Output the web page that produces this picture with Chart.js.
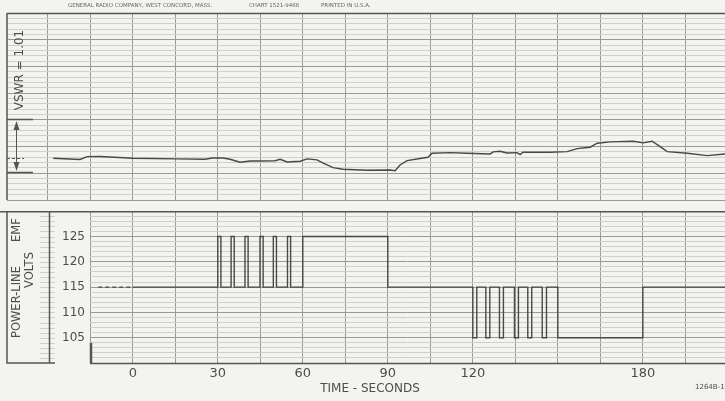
<!DOCTYPE html>
<html>
<head>
<meta charset="utf-8">
<script src="https://cdn.jsdelivr.net/npm/chart.js@4.4.1/dist/chart.umd.min.js"></script>
<style>
  body { margin: 0; width: 725px; height: 401px; overflow: hidden; position: relative;
         background: #f3f3f0; font-family: "DejaVu Sans", sans-serif; color: #4d4d4d; }
  canvas { position: absolute; left: 0; }
  #vswrChart { top: 0; }
  #voltChart { top: 199px; }
  .txt { position: absolute; white-space: nowrap; line-height: 1; }
  .rot { transform: translate(-50%, -50%) rotate(-90deg); }
  .hdr { font-size: 5.5px; color: #666; top: 3px; }
</style>
</head>
<body>
<canvas id="vswrChart" width="725" height="201"></canvas>
<canvas id="voltChart" width="725" height="202"></canvas>

<div class="txt hdr" style="left:68px">GENERAL RADIO COMPANY, WEST CONCORD, MASS.</div>
<div class="txt hdr" style="left:249px">CHART 1521-9466</div>
<div class="txt hdr" style="left:321px">PRINTED IN U.S.A.</div>

<div class="txt rot" style="left:19px;top:70px;font-size:12px">VSWR = 1.01</div>
<div class="txt rot" style="left:17px;top:230px;font-size:11.5px">EMF</div>
<div class="txt rot" style="left:17px;top:302px;font-size:11.5px">POWER-LINE</div>
<div class="txt rot" style="left:30px;top:270px;font-size:11.5px">VOLTS</div>

<div class="txt" style="left:370px;top:388px;font-size:12px;transform:translate(-50%,-50%)">TIME - SECONDS</div>
<div class="txt" style="left:695px;top:384px;font-size:7px">1264B-1</div>

<script>
// VSWR recorder trace (seconds, chart divisions above the bottom of the upper panel)
const vswrTime = [-28.1, -18.6, -16.1, -11.5, 0.1, 15.6, 25.5, 28, 31.9, 34.3, 37.9, 41.4, 44.9,
  50.2, 52, 54.5, 59.1, 61.5, 65, 67.2, 70.7, 74.2, 82.7, 90.8, 92.6, 94.3, 96.8, 102.5, 104.2,
  105.6, 112, 118, 126.1, 127.2, 129.6, 132.1, 135.6, 136.7, 137.7, 147.3, 153.3, 156.8, 161.4,
  163.9, 168.5, 176.6, 180.1, 183.3, 186.1, 188.6, 195.7, 202.7, 209];
const vswrLevel = [7.82, 7.59, 8.12, 8.15, 7.82, 7.69, 7.63, 7.87, 7.87, 7.63, 7.07, 7.31, 7.31,
  7.35, 7.63, 7.12, 7.26, 7.69, 7.5, 6.88, 6.06, 5.76, 5.57, 5.62, 5.49, 6.56, 7.37, 7.87, 8.0,
  8.76, 8.87, 8.76, 8.62, 9.0, 9.13, 8.81, 8.87, 8.49, 8.94, 8.94, 9.06, 9.62, 9.88,
  10.63, 10.87, 11.0, 10.69, 11.0, 9.99, 9.06, 8.75, 8.31, 8.62];

// power-line volts, value holds until the next time
const voltTime = [0, 30, 31.1, 34.7, 35.8, 39.6, 40.7, 44.9, 46, 49.6, 50.7, 54.6, 55.7, 60, 90,
  120, 121.4, 124.6, 126, 129.4, 130.8, 134.7, 136.1, 139.4, 140.8, 144.5, 146, 150, 180, 209];
const voltLevel = [115, 125, 115, 125, 115, 125, 115, 125, 115, 125, 115, 125, 115, 125, 115,
  105, 115, 105, 115, 105, 115, 105, 115, 105, 115, 105, 115, 105, 115, 115];
const leadTime = [-12.2, 0];
const leadLevel = [115, 115];

const gridSeconds = [-30, -15, 0, 15, 30, 45, 60, 75, 90, 105, 120, 135, 150, 165, 180, 195];
const timeTicks = [0, 30, 60, 90, 120, 180];
const timeTickText = ['0', '30', '60', '90', '120', '180'];
const voltTicks = [105, 110, 115, 120, 125];

const ink = '#484848';
const majorGrid = '#9a9a9a';
const minorGrid = '#cfcfcc';

Chart.defaults.font.family = '"DejaVu Sans", sans-serif';
Chart.defaults.color = '#4d4d4d';

function points(xs, ys) {
  return xs.map((x, i) => ({ x: x, y: ys[i] }));
}
function range(a, b) {
  const out = [];
  for (let v = a; v <= b; v++) out.push({ value: v });
  return out;
}

// the upper panel: left border and the VSWR span arrow
const vswrMarks = {
  id: 'vswrMarks',
  afterDraw(chart) {
    const c = chart.ctx;
    const y = chart.scales.y;
    c.save();
    c.strokeStyle = '#555';
    c.fillStyle = '#555';
    c.lineWidth = 1.5;
    c.beginPath();
    c.moveTo(7, y.getPixelForValue(35));
    c.lineTo(7, y.getPixelForValue(0));
    c.moveTo(7, 13.5);
    c.lineTo(725, 13.5);
    c.moveTo(7, 119.5);
    c.lineTo(33, 119.5);
    c.moveTo(7, 172.5);
    c.lineTo(33, 172.5);
    c.stroke();
    c.lineWidth = 1;
    c.beginPath();
    c.moveTo(16.5, 123);
    c.lineTo(16.5, 169);
    c.stroke();
    c.beginPath();
    c.moveTo(16.5, 121); c.lineTo(13.5, 130); c.lineTo(19.5, 130); c.closePath();
    c.moveTo(16.5, 171); c.lineTo(13.5, 162); c.lineTo(19.5, 162); c.closePath();
    c.fill();
    c.setLineDash([3, 2]);
    c.beginPath();
    c.moveTo(7, 158.5);
    c.lineTo(24, 158.5);
    c.stroke();
    c.restore();
  }
};

new Chart(document.getElementById('vswrChart'), {
  type: 'line',
  data: {
    datasets: [{
      data: points(vswrTime, vswrLevel),
      borderColor: ink,
      borderWidth: 1.4,
      pointRadius: 0,
      tension: 0
    }]
  },
  options: {
    responsive: false,
    animation: false,
    devicePixelRatio: 1,
    layout: { padding: { left: 7, top: 13, right: 0, bottom: 1 } },
    plugins: { legend: { display: false }, tooltip: { enabled: false } },
    scales: {
      x: {
        type: 'linear', min: -44.4, max: 209,
        afterBuildTicks: s => { s.ticks = gridSeconds.map(v => ({ value: v })); },
        afterFit: s => { s.height = 0; },
        ticks: { display: false },
        grid: { color: majorGrid, drawTicks: false },
        border: { display: false }
      },
      y: {
        min: 0, max: 35,
        afterBuildTicks: s => { s.ticks = range(0, 35); },
        afterFit: s => { s.width = 0; },
        ticks: { display: false },
        grid: {
          drawTicks: false,
          color: c => (c.tick.value % 5 === 0 ? majorGrid : minorGrid)
        },
        border: { display: false }
      }
    }
  },
  plugins: [vswrMarks]
});

// the lower panel: label box lines and margin hatching
const voltMarks = {
  id: 'voltMarks',
  afterDraw(chart) {
    const c = chart.ctx;
    const y = chart.scales.y;
    const area = chart.chartArea;
    c.save();
    c.strokeStyle = minorGrid;
    c.lineWidth = 1;
    c.beginPath();
    for (let v = 101; v <= 129; v++) {
      const py = Math.round(y.getPixelForValue(v)) + 0.5;
      c.moveTo(40, py);
      c.lineTo(55, py);
    }
    c.stroke();
    c.strokeStyle = '#555';
    c.lineWidth = 1.5;
    c.beginPath();
    c.moveTo(7, area.top);
    c.lineTo(7, area.bottom);
    c.lineTo(55, area.bottom);
    c.moveTo(49.5, area.top);
    c.lineTo(49.5, area.bottom);
    c.moveTo(0, area.top + 0.5);
    c.lineTo(725, area.top + 0.5);
    c.moveTo(area.left, area.bottom + 0.5);
    c.lineTo(area.right, area.bottom + 0.5);
    c.stroke();
    c.lineWidth = 2.5;
    c.beginPath();
    c.moveTo(area.left + 1, y.getPixelForValue(104));
    c.lineTo(area.left + 1, area.bottom);
    c.stroke();
    c.restore();
  }
};

new Chart(document.getElementById('voltChart'), {
  type: 'line',
  data: {
    datasets: [{
      data: points(voltTime, voltLevel),
      stepped: 'before',
      borderColor: ink,
      borderWidth: 1.4,
      pointRadius: 0
    }, {
      data: points(leadTime, leadLevel),
      borderColor: ink,
      borderWidth: 1.2,
      borderDash: [4, 3],
      pointRadius: 0
    }]
  },
  options: {
    responsive: false,
    animation: false,
    devicePixelRatio: 1,
    layout: { padding: { left: 0, top: 1, right: 0, bottom: 0 } },
    plugins: { legend: { display: false }, tooltip: { enabled: false } },
    scales: {
      x: {
        type: 'linear', min: -15.1, max: 209,
        afterBuildTicks: s => { s.ticks = gridSeconds.filter(v => v >= -15).map(v => ({ value: v })); },
        afterFit: s => { s.height = 38; },
        ticks: {
          autoSkip: false, maxRotation: 0, padding: 3,
          font: { size: 13 },
          callback: v => {
            const i = timeTicks.indexOf(v);
            return i >= 0 ? timeTickText[i] : '';
          }
        },
        grid: { color: majorGrid, drawTicks: false },
        border: { display: false }
      },
      y: {
        min: 100, max: 130,
        afterBuildTicks: s => { s.ticks = range(100, 130); },
        afterFit: s => { s.width = 90; },
        ticks: {
          autoSkip: false, padding: 5,
          font: { size: 12 },
          callback: v => (voltTicks.includes(v) ? String(v) : '')
        },
        grid: {
          drawTicks: false,
          color: c => (c.tick.value % 5 === 0 ? majorGrid : minorGrid)
        },
        border: { display: false }
      }
    }
  },
  plugins: [voltMarks]
});
</script>
</body>
</html>
